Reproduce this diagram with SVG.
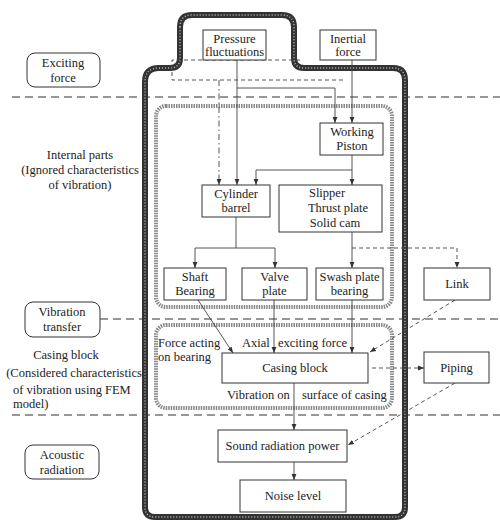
<svg xmlns="http://www.w3.org/2000/svg" width="500" height="531" viewBox="0 0 500 531">
<style>
text{font-family:"Liberation Serif","Times New Roman",serif;font-size:12.5px;fill:#222}
.m{text-anchor:middle}
.box{fill:#fff;stroke:#333;stroke-width:1}
.lbl{fill:#fff;stroke:#333;stroke-width:1}
.sep{fill:none;stroke:#333;stroke-width:1.2;stroke-dasharray:8 5}
.c{fill:none;stroke:#444;stroke-width:0.9}
.d{fill:none;stroke:#444;stroke-width:0.9;stroke-dasharray:4 3}
.dd{fill:none;stroke:#444;stroke-width:0.9;stroke-dasharray:6 3 1.5 3}
.dot{fill:none;stroke:#888;stroke-width:4;stroke-dasharray:1.5 1}
</style>
<defs>
<marker id="a" viewBox="0 0 10 10" refX="10" refY="5" markerWidth="6" markerHeight="6" orient="auto" markerUnits="userSpaceOnUse">
<path d="M0,1 L10,5 L0,9 Z" fill="#333"/>
</marker>
</defs>
<rect width="500" height="531" fill="#fff"/>

<g id="separators">
<line class="sep" x1="12" y1="97" x2="500" y2="97"/>
<line class="sep" x1="100" y1="319" x2="500" y2="319"/>
<line class="sep" x1="12" y1="415" x2="500" y2="415"/>
</g>

<g id="regions">
<path d="M180,27 Q180,15 192,15 L282,15 Q294,15 294,27 L294,58 Q294,68 304,68 L393,68 Q405,68 405,80 L405,507 Q405,517 395,517 L155,517 Q145,517 145,507 L145,82 Q145,68 159,68 L170,68 Q180,68 180,58 Z" fill="none" stroke="#333" stroke-width="6"/>
<path d="M180,27 Q180,15 192,15 L282,15 Q294,15 294,27 L294,58 Q294,68 304,68 L393,68 Q405,68 405,80 L405,507 Q405,517 395,517 L155,517 Q145,517 145,507 L145,82 Q145,68 159,68 L170,68 Q180,68 180,58 Z" fill="none" stroke="#bbb" stroke-width="1.5" stroke-dasharray="1 2"/>
<rect class="dot" x="156" y="106" width="236" height="201" rx="10"/>
<rect class="dot" x="156" y="325" width="236" height="83" rx="10"/>
</g>

<g id="side-labels">
<g id="exciting-force">
<rect class="lbl" x="27" y="53" width="73" height="34" rx="8"/>
<text class="m" x="63" y="67">Exciting</text>
<text class="m" x="63" y="82">force</text>
</g>
<g id="internal-parts">
<text class="m" x="80" y="159">Internal parts</text>
<text class="m" x="80" y="174">(Ignored characteristics</text>
<text class="m" x="80" y="189">of vibration)</text>
</g>
<g id="vibration-transfer">
<rect class="lbl" x="25" y="302" width="75" height="35" rx="8"/>
<text class="m" x="62" y="316">Vibration</text>
<text class="m" x="62" y="331">transfer</text>
</g>
<g id="casing-block-label">
<text class="m" x="66" y="359">Casing block</text>
<text class="m" x="74" y="377">(Considered characteristics</text>
<text x="13" y="394">of vibration using FEM</text>
<text x="13" y="408">model)</text>
</g>
<g id="acoustic-radiation">
<rect class="lbl" x="25" y="445" width="74" height="34" rx="8"/>
<text class="m" x="62" y="459">Acoustic</text>
<text class="m" x="62" y="474">radiation</text>
</g>
</g>

<g id="connectors">
<path class="d" d="M300,60 H172 V80 H345"/>
<path class="dd" d="M219,80 V185" marker-end="url(#a)"/>
<path class="c" d="M237,60 V185" marker-end="url(#a)"/>
<path class="c" d="M237,88 H335 V123" marker-end="url(#a)"/>
<path class="c" d="M352,60 V123" marker-end="url(#a)"/>
<path class="c" d="M352,155 V170 H256 V185" marker-end="url(#a)"/>
<path class="c" d="M352,170 V185" marker-end="url(#a)"/>
<path class="c" d="M236,217 V248 M195,248 H275"/>
<path class="c" d="M195,248 V268" marker-end="url(#a)"/>
<path class="c" d="M275,248 V268" marker-end="url(#a)"/>
<path class="c" d="M352,232 V268" marker-end="url(#a)"/>
<path class="d" d="M352,248 H457 V268" marker-end="url(#a)"/>
<path class="c" d="M198,300 L233,353" marker-end="url(#a)"/>
<path class="c" d="M274,300 V353" marker-end="url(#a)"/>
<path class="c" d="M352,300 V353" marker-end="url(#a)"/>
<path class="d" d="M455,300 L370,352" marker-end="url(#a)"/>
<path class="d" d="M372,368 H424" marker-end="url(#a)"/>
<path class="d" d="M455,383 L348,445" marker-end="url(#a)"/>
<path class="c" d="M294,383 V430" marker-end="url(#a)"/>
<path class="c" d="M294,462 V480" marker-end="url(#a)"/>
</g>

<g id="pressure-fluctuations">
<rect class="box" x="203" y="30" width="63" height="30"/>
<text class="m" x="234.5" y="43">Pressure</text>
<text class="m" x="234.5" y="56">fluctuations</text>
</g>
<g id="inertial-force">
<rect class="box" x="320" y="30" width="56" height="30"/>
<text class="m" x="348" y="43">Inertial</text>
<text class="m" x="348" y="56">force</text>
</g>
<g id="working-piston">
<rect class="box" x="320" y="123" width="63" height="32"/>
<text class="m" x="352" y="136">Working</text>
<text class="m" x="352" y="150">Piston</text>
</g>
<g id="cylinder-barrel">
<rect class="box" x="202" y="185" width="68" height="32"/>
<text class="m" x="236" y="198">Cylinder</text>
<text class="m" x="236" y="212">barrel</text>
</g>
<g id="slipper">
<rect class="box" x="279" y="185" width="103" height="47"/>
<text class="m" x="327" y="197">Slipper</text>
<text class="m" x="338" y="212">Thrust plate</text>
<text class="m" x="335" y="227">Solid cam</text>
</g>
<g id="shaft-bearing">
<rect class="box" x="164" y="268" width="62" height="32"/>
<text class="m" x="195" y="281">Shaft</text>
<text class="m" x="195" y="295">Bearing</text>
</g>
<g id="valve-plate">
<rect class="box" x="242" y="268" width="65" height="32"/>
<text class="m" x="274.5" y="281">Valve</text>
<text class="m" x="274.5" y="295">plate</text>
</g>
<g id="swash-plate-bearing">
<rect class="box" x="316" y="268" width="67" height="32"/>
<text class="m" x="349.5" y="281">Swash plate</text>
<text class="m" x="349.5" y="295">bearing</text>
</g>
<g id="link">
<rect class="box" x="424" y="268" width="66" height="32"/>
<text class="m" x="457" y="288">Link</text>
</g>
<g id="casing-block">
<rect class="box" x="222" y="353" width="146" height="30"/>
<text class="m" x="295" y="372">Casing block</text>
</g>
<g id="piping">
<rect class="box" x="424" y="352" width="65" height="31"/>
<text class="m" x="456.5" y="372">Piping</text>
</g>
<g id="sound-radiation-power">
<rect class="box" x="218" y="430" width="129" height="32"/>
<text class="m" x="282.5" y="450">Sound radiation power</text>
</g>
<g id="noise-level">
<rect class="box" x="240" y="480" width="106" height="32"/>
<text class="m" x="293" y="500">Noise level</text>
</g>

<g id="flow-labels">
<text x="158" y="347">Force acting</text>
<text x="158" y="361">on bearing</text>
<text x="242" y="347">Axial</text>
<text x="278" y="347">exciting force</text>
<text x="227" y="399">Vibration on</text>
<text x="302" y="399">surface of casing</text>
</g>
</svg>
